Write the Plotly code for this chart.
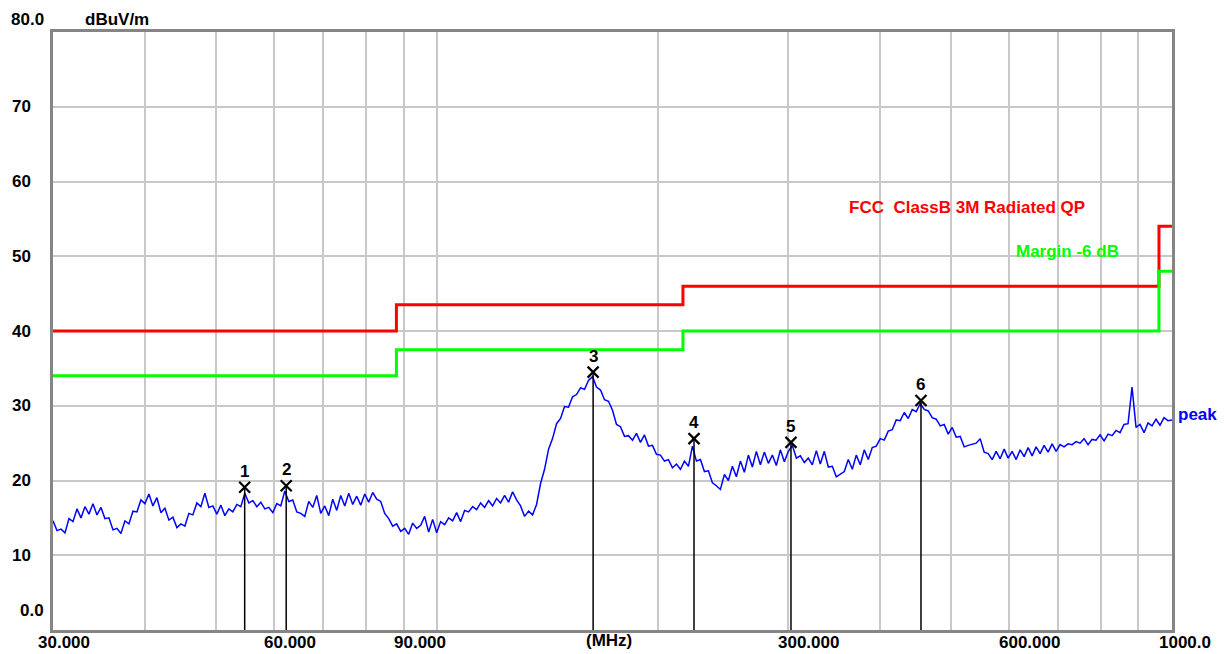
import numpy as np
import plotly.graph_objects as go

# ---------------- data ----------------
# measured peak trace (dBuV/m), log-spaced sweep 30 MHz .. 1000 MHz
levels = [
    14.6, 13.3, 13.5, 13.0, 14.9, 14.5, 16.2, 15.0, 16.5, 15.5, 16.9, 15.4, 16.4, 14.9, 15.0, 13.4, 13.6, 12.9, 14.6, 14.2,
    15.9, 15.8, 17.4, 16.9, 18.2, 16.6, 17.7, 15.7, 16.3, 14.7, 15.1, 13.7, 14.2, 13.9, 15.6, 15.4, 17.0, 16.5, 18.3, 16.4,
    16.6, 15.5, 16.7, 15.3, 16.2, 15.8, 16.8, 16.5, 18.3, 17.0, 17.3, 16.5, 17.1, 16.2, 16.4, 15.7, 16.9, 16.6, 18.6, 17.2,
    17.4, 15.8, 15.6, 15.2, 17.2, 16.4, 18.0, 15.6, 16.6, 15.3, 17.5, 16.0, 18.0, 16.6, 18.3, 16.8, 17.9, 16.7, 18.2, 17.1,
    18.4, 17.5, 17.2, 15.6, 14.9, 13.9, 14.2, 13.2, 13.6, 12.8, 14.3, 13.6, 14.0, 15.2, 13.1, 14.8, 13.0, 14.5, 14.1, 15.0,
    14.6, 15.7, 14.5, 16.0, 15.8, 16.5, 16.1, 17.0, 16.4, 17.3, 16.6, 17.6, 17.0, 18.0, 17.1, 18.5, 17.4, 16.6, 15.2, 15.9,
    15.4, 16.8, 19.6, 21.5, 24.2, 25.6, 27.6, 28.3, 29.9, 29.8, 31.2, 31.5, 32.4, 32.2, 33.4, 33.9, 32.5, 32.1, 30.8, 30.6,
    29.4, 27.5, 27.2, 25.9, 26.0, 25.4, 26.3, 25.1, 26.1, 24.6, 24.7, 23.5, 23.4, 22.6, 22.8, 21.7, 22.2, 21.5, 22.6, 21.9,
    24.6, 22.6, 22.8, 21.2, 21.3, 19.7, 19.3, 18.8, 20.8, 20.0, 21.9, 20.5, 22.6, 21.1, 23.4, 21.8, 23.9, 22.1, 23.8, 22.3,
    23.4, 22.0, 24.1, 22.5, 23.9, 24.7, 23.0, 23.3, 22.4, 23.0, 22.1, 24.0, 22.2, 23.9, 21.8, 21.9, 20.5, 20.8, 21.2, 22.8,
    21.5, 23.4, 22.1, 24.1, 22.8, 24.4, 24.6, 25.6, 25.4, 26.6, 26.8, 28.1, 28.0, 29.1, 28.3, 29.5, 29.2, 30.3, 29.5, 29.3,
    28.4, 28.2, 27.3, 27.5, 26.2, 27.1, 25.8, 25.9, 24.5, 24.7, 24.9, 25.0, 25.6, 23.8, 23.6, 22.8, 23.9, 22.9, 24.2, 23.0,
    23.9, 22.8, 24.1, 23.2, 24.4, 23.3, 24.5, 23.6, 24.7, 23.8, 24.9, 23.9, 24.8, 24.5, 24.9, 24.8, 25.2, 25.0, 25.6, 24.8,
    25.5, 25.4, 26.1, 25.3, 26.2, 26.0, 26.7, 26.4, 27.5, 27.6, 32.5, 27.1, 27.5, 26.4, 27.7, 27.3, 28.2, 27.4, 28.4, 28.0,
    28.1,
]
freq_start = 30.0
freq_stop = 1000.0

# FCC Class B 3 m radiated QP limit (step edges) and -6 dB margin
limit_freq = [30, 88, 216, 960, 1000]
limit_level = [40.0, 43.5, 46.0, 54.0, 54.0]
margin_level = [34.0, 37.5, 40.0, 48.0, 48.0]

# marker points
marker_ids = ["1", "2", "3", "4", "5", "6"]
marker_freq = [54.7, 62.3, 163.0, 223.6, 303.0, 455.4]
marker_level = [19.1, 19.3, 34.5, 25.6, 25.1, 30.7]

# axes / labels
x_grid = [40, 50, 60, 70, 80, 90, 100, 200, 300, 400, 500, 600, 700, 800, 900]
x_labels = [(30, "30.000"), (60, "60.000"), (90, "90.000"), (300, "300.000"),
            (600, "600.000"), (1000, "1000.0")]
y_grid = [10, 20, 30, 40, 50, 60, 70]
y_min, y_max = 0, 80

# ---------------- figure ----------------
freqs = np.geomspace(freq_start, freq_stop, len(levels))
FONT = "Liberation Sans, Arial, sans-serif"
fs = 17

fig = go.Figure()
fig.add_trace(go.Scatter(x=limit_freq, y=limit_level, mode="lines",
                         line=dict(color="#ff0000", width=3, shape="hv"), hoverinfo="skip"))
fig.add_trace(go.Scatter(x=limit_freq, y=margin_level, mode="lines",
                         line=dict(color="#00ff00", width=3, shape="hv"), hoverinfo="skip"))
fig.add_trace(go.Scatter(x=freqs, y=levels, mode="lines",
                         line=dict(color="#0000ff", width=1.5)))
for f, lv in zip(marker_freq, marker_level):
    fig.add_trace(go.Scatter(x=[f, f], y=[lv, y_min], mode="lines",
                             line=dict(color="#000000", width=1.5), hoverinfo="skip"))
fig.add_trace(go.Scatter(x=marker_freq, y=marker_level, mode="markers",
                         marker=dict(symbol="x-thin", size=11, line=dict(color="#000000", width=2.2)),
                         hoverinfo="skip"))

ann = []
for mid, f, lv in zip(marker_ids, marker_freq, marker_level):
    ann.append(dict(x=np.log10(f), y=lv, xref="x", yref="y", text="<b>%s</b>" % mid, showarrow=False,
                    yshift=16, font=dict(family=FONT, size=fs, color="#000000")))
# x tick labels
for f, t in x_labels:
    sh = -12
    if f == 30:
        sh = -17
    if f == 1000:
        sh = -15
    ann.append(dict(x=np.log10(f), y=0, xref="x", yref="paper", text="<b>%s</b>" % t,
                    showarrow=False, xanchor="left", yanchor="middle", xshift=sh, yshift=-12,
                    font=dict(family=FONT, size=fs, color="#000000")))
ann.append(dict(x=0.5, y=0, xref="paper", yref="paper", text="<b>(MHz)</b>", showarrow=False,
                xanchor="center", yanchor="middle", xshift=-4, yshift=-10,
                font=dict(family=FONT, size=fs, color="#000000")))
# y tick labels
for v in y_grid:
    ann.append(dict(x=0, y=v, xref="paper", yref="y", text="<b>%d</b>" % v, showarrow=False,
                    xanchor="left", yanchor="middle", xshift=-43,
                    font=dict(family=FONT, size=fs, color="#000000")))
ann.append(dict(x=0, y=y_max, xref="paper", yref="y", text="<b>80.0</b>", showarrow=False,
                xanchor="right", yanchor="middle", xshift=-7, yshift=13,
                font=dict(family=FONT, size=fs, color="#000000")))
ann.append(dict(x=0, y=y_min, xref="paper", yref="y", text="<b>0.0</b>", showarrow=False,
                xanchor="right", yanchor="middle", xshift=-7, yshift=20,
                font=dict(family=FONT, size=fs, color="#000000")))
ann.append(dict(x=0, y=y_max, xref="paper", yref="y", text="<b>dBuV/m</b>", showarrow=False,
                xanchor="left", yanchor="middle", xshift=30, yshift=13,
                font=dict(family=FONT, size=fs, color="#000000")))
# legend texts
ann.append(dict(x=np.log10(600), y=56.5, xref="x", yref="y",
                text="<b>FCC\u00a0\u00a0ClassB 3M Radiated QP</b>", showarrow=False,
                xanchor="left", yanchor="middle", xshift=-162,
                font=dict(family=FONT, size=fs, color="#ff0000")))
ann.append(dict(x=np.log10(600), y=50.7, xref="x", yref="y",
                text="<b>Margin -6 dB</b>", showarrow=False,
                xanchor="left", yanchor="middle", xshift=5,
                font=dict(family=FONT, size=fs, color="#00ff00")))
ann.append(dict(x=1, y=28.8, xref="paper", yref="y", text="<b>peak</b>", showarrow=False,
                xanchor="left", yanchor="middle", xshift=4,
                font=dict(family=FONT, size=fs, color="#0000ff")))

# the page body adds an 8 px offset, so margins are reduced by 8 on left/top
fig.update_layout(
    width=1226, height=654,
    margin=dict(l=45, r=62, t=24, b=32),
    paper_bgcolor="white", plot_bgcolor="white",
    showlegend=False,
    annotations=ann,
    xaxis=dict(type="log", range=[np.log10(freq_start), np.log10(freq_stop)],
               tickvals=x_grid, showticklabels=False, ticks="",
               showgrid=True, gridcolor="#c8c8c8", gridwidth=1.5,
               showline=True, linecolor="#858585", linewidth=3, mirror=True, zeroline=False),
    yaxis=dict(range=[y_min, y_max], tickvals=y_grid, showticklabels=False, ticks="",
               showgrid=True, gridcolor="#c8c8c8", gridwidth=1.5,
               showline=True, linecolor="#858585", linewidth=3, mirror=True, zeroline=False),
)

fig.write_html("out.html")
